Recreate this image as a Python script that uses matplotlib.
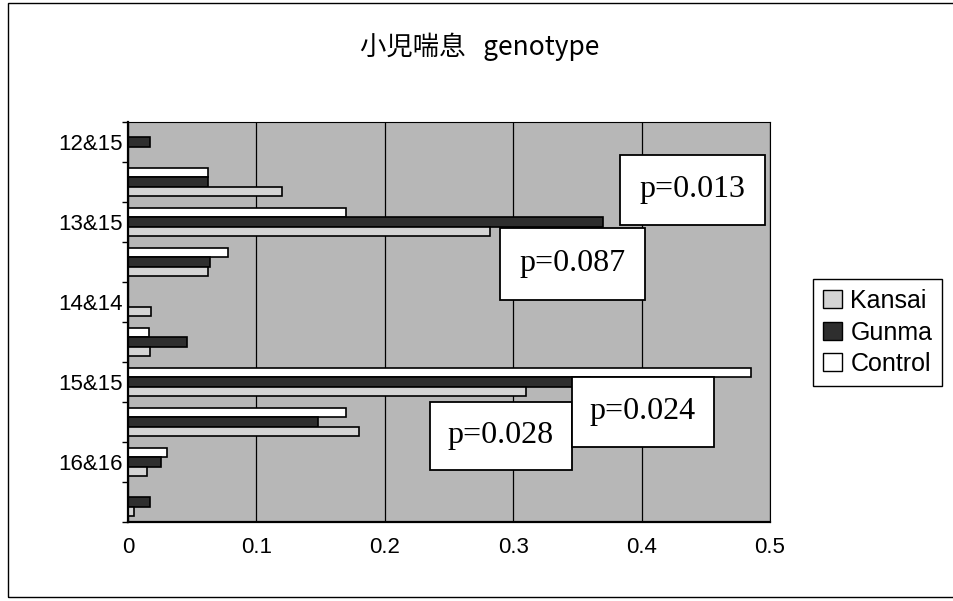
import numpy as np
import matplotlib
matplotlib.use('Agg')
import matplotlib.pyplot as plt
from matplotlib.patches import Rectangle, Patch

plt.rcParams['font.family'] = ['Liberation Sans', 'Noto Sans CJK JP', 'DejaVu Sans']

# genotype categories, top to bottom (only every other one is labelled on the axis)
categories = ['12&15', '13&14', '13&15', '13&16', '14&14',
              '14&15', '15&15', '15&16', '16&16', '16&17']

# frequencies per group
kansai = [0.0, 0.12, 0.282, 0.062, 0.018, 0.017, 0.31, 0.18, 0.015, 0.005]
gunma = [0.017, 0.062, 0.37, 0.064, 0.0, 0.046, 0.36, 0.148, 0.026, 0.017]
control = [0.0, 0.062, 0.17, 0.078, 0.0, 0.016, 0.485, 0.17, 0.030, 0.0]

x_ticks = [0, 0.1, 0.2, 0.3, 0.4, 0.5]

# p-value annotations: text, (x0, x1) in value units, (y0, y1) in category units
p_texts = ['p=0.013', 'p=0.087', 'p=0.028', 'p=0.024']
p_xspan = [(0.383, 0.496), (0.290, 0.403), (0.235, 0.346), (0.346, 0.456)]
p_yspan = [(0.325, 2.075), (2.15, 3.95), (6.5, 8.2), (5.875, 7.625)]

fig = plt.figure(figsize=(9.54, 6.01), dpi=100)
ax = fig.add_axes([128 / 954, 1 - 522 / 601, 642 / 954, 400 / 601])
ax.set_facecolor('#b7b7b7')

y = np.arange(len(categories))
h = 0.23
ax.barh(y - h, control, h, color='white', edgecolor='black', linewidth=1.2, label='Control')
ax.barh(y, gunma, h, color='#2e2e2e', edgecolor='black', linewidth=1.2, label='Gunma')
ax.barh(y + h, kansai, h, color='#d4d4d4', edgecolor='black', linewidth=1.2, label='Kansai')

ax.set_xlim(0, 0.5)
ax.set_ylim(len(categories) - 0.5, -0.5)
ax.set_xticks(x_ticks)
ax.set_xticklabels([f'{t:g}' for t in x_ticks], fontsize=16)
ax.set_yticks(y)
ax.set_yticklabels([c if i % 2 == 0 else '' for i, c in enumerate(categories)], fontsize=16)
ax.set_yticks(np.arange(len(categories) + 1) - 0.5, minor=True)
ax.tick_params(axis='x', length=0, pad=11)
ax.tick_params(axis='y', which='major', length=0, pad=4)
ax.tick_params(axis='y', which='minor', length=4, width=1)

ax.grid(axis='x', color='black', linewidth=0.9)
ax.set_axisbelow(True)
for side in ['left', 'bottom']:
    ax.spines[side].set_linewidth(1.6)
for side in ['top', 'right']:
    ax.spines[side].set_linewidth(0.8)

# p-value boxes
for txt, (x0, x1), (y0, y1) in zip(p_texts, p_xspan, p_yspan):
    ax.add_patch(Rectangle((x0, y0), x1 - x0, y1 - y0, facecolor='white',
                           edgecolor='black', linewidth=1.3, zorder=5))
    ax.text((x0 + x1) / 2, (y0 + y1) / 2, txt, ha='center', va='center',
            fontsize=23, family='Liberation Serif', zorder=6)

fig.text(0.503, 1 - 47 / 601, '小児喘息   genotype', ha='center', va='center',
         fontsize=19, family=['Noto Sans CJK JP'])

handles = [Patch(facecolor='#d4d4d4', edgecolor='black', label='Kansai'),
           Patch(facecolor='#2e2e2e', edgecolor='black', label='Gunma'),
           Patch(facecolor='white', edgecolor='black', label='Control')]
leg = fig.legend(handles=handles, loc='upper left', bbox_to_anchor=(813 / 954, 1 - 279 / 601),
                 fontsize=18, fancybox=False, framealpha=1, edgecolor='black',
                 handlelength=0.75, handleheight=0.75, handletextpad=0.35,
                 labelspacing=0.3, borderpad=0.4, borderaxespad=0)
leg.get_frame().set_linewidth(1.0)

# chart area border
fig.patches.append(Rectangle((8 / 954, 4 / 601), 1.0, 594 / 601, transform=fig.transFigure,
                             fill=False, edgecolor='black', linewidth=1.0))

fig.savefig('out.png', dpi=100)
